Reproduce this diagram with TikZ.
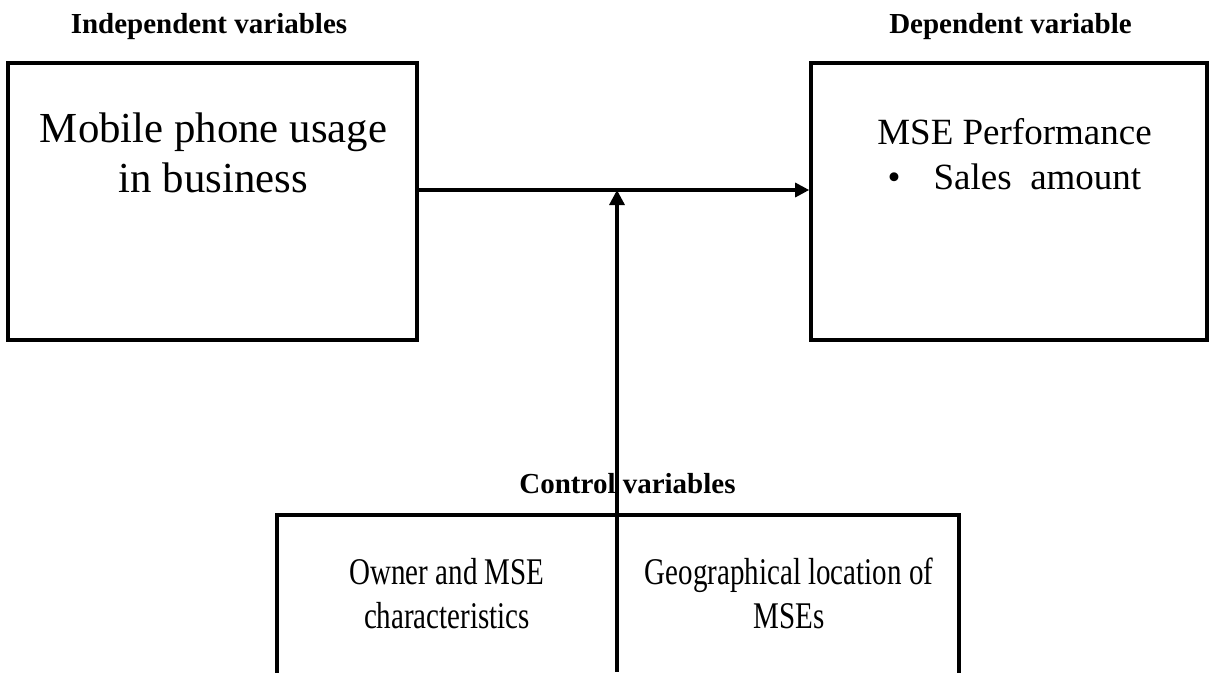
\documentclass[tikz,border=0pt]{standalone}
\usepackage{fontspec}
\usepackage{graphicx}
\setmainfont{Liberation Serif}
\usetikzlibrary{arrows.meta}
\tikzset{
  box/.style={draw=black, line width=3.6pt, rectangle, inner sep=0pt},
  conn/.style={draw=black, line width=3.2pt},
  hdr/.style={anchor=base, inner sep=0pt, font=\fontsize{29}{34}\selectfont\bfseries},
  bigtxt/.style={anchor=base, inner sep=0pt, font=\fontsize{42.8}{50}\selectfont},
  midtxt/.style={anchor=base, inner sep=0pt, font=\fontsize{37}{45}\selectfont},
  smalltxt/.style={anchor=base, inner sep=0pt, font=\fontsize{29}{34}\selectfont},
}
\begin{document}
\begin{tikzpicture}[x=1pt,y=-1pt]
\useasboundingbox (0,0) rectangle (1209,672);
\clip (0,0) rectangle (1209,672);
% headers
\node[hdr] (hind) at (209,33) {Independent variables};
\node[hdr] (hdep) at (1010.5,33) {Dependent variable};
\node[hdr] (hctl) at (627.5,493) {Control variables};
% boxes
\node[box, minimum width=409pt, minimum height=277pt] (ind) at (212.5,201.5) {};
\node[box, minimum width=396pt, minimum height=277pt] (dep) at (1009,201.5) {};
\node[box, minimum width=682pt, minimum height=200pt] (ctl) at (618,615) {};
% texts
\node[bigtxt] (t1) at (213.5,142) {Mobile phone usage};
\node[bigtxt] (t2) at (213.5,192) {in business};
\node[midtxt] (t3) at (1014.5,144) {MSE Performance};
\node[midtxt] (t4) at (1014.5,189) {\textbullet\hspace{33pt}Sales\ \ amount};
\node[smalltxt] (t5) at (447,584) {\scalebox{1}[1.3]{Owner and MSE}};
\node[smalltxt] (t6) at (447,628) {\scalebox{1}[1.3]{characteristics}};
\node[smalltxt] (t7) at (789,584) {\scalebox{1}[1.3]{Geographical location of}};
\node[smalltxt] (t8) at (789,628) {\scalebox{1}[1.3]{MSEs}};
% connectors
\coordinate (mid) at (617,190);
\coordinate (bot) at (617,672);
\draw[conn, -{Triangle[length=14pt,width=14pt]}] (ind.east |- mid) -- (dep.west |- mid);
\draw[conn, -{Triangle[length=15pt,width=15pt]}] (ctl.north -| mid) -- (mid);
\draw[conn] (ctl.north -| mid) -- (bot);
\end{tikzpicture}
\end{document}
